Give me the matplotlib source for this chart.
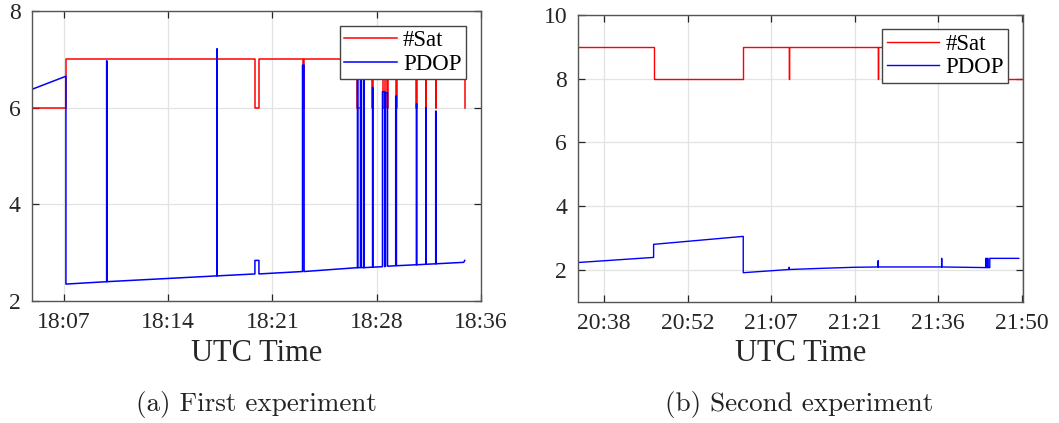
import matplotlib
matplotlib.use("Agg")
import matplotlib.pyplot as plt

# ------------------------------------------------------------
# data : minutes after 18:00 (a) and after 20:00 (b)
# ------------------------------------------------------------

# (a) first experiment : #Sat as a step series
sat_a_t = [4.78, 7.14, 20.28, 20.56, 23.59, 23.68, 27.40, 27.68, 28.44, 28.46,
           29.17, 29.34, 29.48, 29.50, 30.11, 30.13, 31.51, 31.53, 32.15, 32.20,
           32.85, 32.87, 34.87]
sat_a_v = [6, 7, 6, 7, 6, 7, 6, 7, 6, 7,
           6, 7, 6, 7, 6, 7, 6, 7, 6, 7,
           6, 7, 6]

# (a) PDOP : base knots + spikes (start, end, base, peak)
pdop_a_t = [4.78, 7.14, 7.14, 34.80, 34.87]
pdop_a_v = [6.38, 6.65, 2.35, 2.80, 2.84]
spk_a_start = [9.97, 17.64, 20.28, 23.59, 27.41, 27.62, 27.85, 28.46, 29.15, 29.36, 30.07, 31.51, 32.16, 32.85]
spk_a_end   = [9.99, 17.66, 20.56, 23.70, 27.43, 27.69, 27.87, 28.48, 29.30, 29.50, 30.12, 31.53, 32.19, 32.87]
spk_a_base  = [2.40, 2.52, 2.56, 2.61, 2.69, 2.69, 2.69, 2.70, 2.71, 2.72, 2.73, 2.75, 2.76, 2.77]
spk_a_peak  = [6.97, 7.22, 2.84, 6.88, 6.95, 6.95, 6.95, 6.42, 6.33, 6.31, 6.24, 6.08, 6.00, 5.93]

# (b) second experiment
sat_b_t = [33.57, 46.55, 62.0, 69.90, 69.92, 85.25, 85.27, 104.5, 110.0]
sat_b_v = [9, 8, 9, 8, 9, 8, 9, 8, 8]

pdop_b_t = [33.57, 46.55, 46.55, 62.0, 62.0, 76.0, 81.2, 96.2, 104.5, 104.5, 109.5]
pdop_b_v = [2.23, 2.39, 2.80, 3.05, 1.91, 2.05, 2.08, 2.09, 2.07, 2.36, 2.36]
spk_b_start = [69.90, 85.25, 96.20, 103.80, 104.10]
spk_b_end   = [69.92, 85.27, 96.22, 103.90, 104.20]
spk_b_base  = [2.01, 2.09, 2.09, 2.07, 2.07]
spk_b_peak  = [2.08, 2.29, 2.36, 2.36, 2.36]

# ticks
ticks_a = [7.0, 14.25, 21.5, 28.75, 36.0]
labels_a = ["18:07", "18:14", "18:21", "18:28", "18:36"]
ticks_b = [38.0, 52.4, 66.8, 81.2, 95.6, 110.0]
labels_b = ["20:38", "20:52", "21:07", "21:21", "21:36", "21:50"]


def build_path(base_t, base_v, s_start, s_end, s_base, s_peak):
    events = [(t, [v]) for t, v in zip(base_t, base_v)]
    for s, e, b, p in zip(s_start, s_end, s_base, s_peak):
        events.append((s, [b, p]))
        events.append((e, [p, b]))
    events.sort(key=lambda ev: ev[0])
    xs, ys = [], []
    for t, vals in events:
        for v in vals:
            xs.append(t)
            ys.append(v)
    return xs, ys


# ------------------------------------------------------------
# figure
# ------------------------------------------------------------
serif = ["Liberation Serif", "DejaVu Serif"]
plt.rcParams["font.family"] = serif

fig = plt.figure(figsize=(10.59, 4.23), dpi=100)

ax_a = fig.add_axes([0.0302, 0.2884, 0.424, 0.6856])
ax_b = fig.add_axes([0.5461, 0.2868, 0.4196, 0.6778])

dark = "#262626"

# panel (a)
xa, ya = build_path(pdop_a_t, pdop_a_v, spk_a_start, spk_a_end, spk_a_base, spk_a_peak)
ax_a.plot(sat_a_t, sat_a_v, color="#ff0000", lw=1.1, drawstyle="steps-post", label="#Sat")
ax_a.plot(xa, ya, color="#0000ff", lw=1.1, label="PDOP")
ax_a.set_xlim(4.78, 36.0)
ax_a.set_ylim(2, 8)
ax_a.set_yticks([2, 4, 6, 8])
ax_a.set_xticks(ticks_a)
ax_a.set_xticklabels(labels_a)

# panel (b)
xb, yb = build_path(pdop_b_t, pdop_b_v, spk_b_start, spk_b_end, spk_b_base, spk_b_peak)
ax_b.plot(sat_b_t, sat_b_v, color="#ff0000", lw=1.0, drawstyle="steps-post", label="#Sat")
ax_b.plot(xb, yb, color="#0000ff", lw=1.0, label="PDOP")
ax_b.set_xlim(33.57, 110.17)
ax_b.set_ylim(1, 10)
ax_b.set_yticks([2, 4, 6, 8, 10])
ax_b.set_xticks(ticks_b)
ax_b.set_xticklabels(labels_b)

legend_anchor = {ax_a: (0.9666, 0.949), ax_b: (0.9676, 0.950)}

for ax in (ax_a, ax_b):
    ax.grid(True, color="#e3e3e3", lw=0.9)
    ax.set_axisbelow(True)
    for sp in ax.spines.values():
        sp.set_color("#555555")
        sp.set_linewidth(1.0)
    ax.tick_params(direction="in", length=5, width=0.9, color=dark,
                   top=True, right=True, labelsize=17, labelcolor=dark, pad=8)
    ax.set_xlabel("UTC Time", fontsize=22, color=dark, labelpad=4)
    leg = ax.legend(loc="upper right", bbox_to_anchor=legend_anchor[ax],
                    fontsize=16.5, handlelength=2.3, handletextpad=0.25,
                    borderpad=0.2, labelspacing=0.1, borderaxespad=0.0,
                    fancybox=False, framealpha=1.0, edgecolor="#444444")
    leg.get_frame().set_linewidth(1.0)

fig.text(0.2417, 0.0426, "(a) First experiment", fontsize=19.5,
         family="cmr10", ha="center", va="center", color="#222222")
fig.text(0.7545, 0.0426, "(b) Second experiment", fontsize=19.5,
         family="cmr10", ha="center", va="center", color="#222222")

fig.savefig("out.png", dpi=100)
